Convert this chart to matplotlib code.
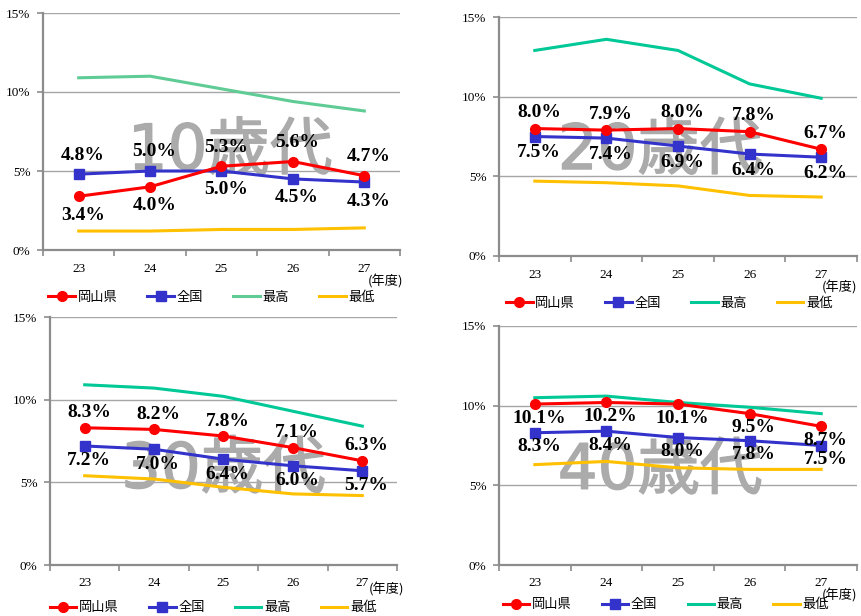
import numpy as np
import matplotlib.pyplot as plt
import matplotlib.patheffects as pe
from matplotlib.ticker import FixedLocator, FuncFormatter

## Data (percent), fiscal years 23-27
years = ["23", "24", "25", "26", "27"]

okayama_10 = [3.4, 4.0, 5.3, 5.6, 4.7]
zenkoku_10 = [4.8, 5.0, 5.0, 4.5, 4.3]
saiko_10 = [10.9, 11.0, 10.2, 9.4, 8.8]
saitei_10 = [1.2, 1.2, 1.3, 1.3, 1.4]

okayama_20 = [8.0, 7.9, 8.0, 7.8, 6.7]
zenkoku_20 = [7.5, 7.4, 6.9, 6.4, 6.2]
saiko_20 = [12.9, 13.6, 12.9, 10.8, 9.9]
saitei_20 = [4.7, 4.6, 4.4, 3.8, 3.7]

okayama_30 = [8.3, 8.2, 7.8, 7.1, 6.3]
zenkoku_30 = [7.2, 7.0, 6.4, 6.0, 5.7]
saiko_30 = [10.9, 10.7, 10.2, 9.3, 8.4]
saitei_30 = [5.4, 5.2, 4.7, 4.3, 4.2]

okayama_40 = [10.1, 10.2, 10.1, 9.5, 8.7]
zenkoku_40 = [8.3, 8.4, 8.0, 7.8, 7.5]
saiko_40 = [10.5, 10.6, 10.2, 9.9, 9.5]
saitei_40 = [6.3, 6.5, 6.1, 6.0, 6.0]

W, H = 862, 616
fig = plt.figure(figsize=(W / 100, H / 100), dpi=100)

RED = "#FF0000"
BLUE = "#3333CC"
YELLOW = "#FFC000"
GREY = "#8C8C8C"
WM_GREY = "#ABABAB"

cjk = ["Noto Sans CJK JP", "DejaVu Sans"]
wm_font = ["DejaVu Sans", "Noto Sans CJK JP"]  # wide digits, CJK for the kanji
serif = "Liberation Serif"


def px_axes(left, right, top, bottom):
    return fig.add_axes([left / W, (H - bottom) / H, (right - left) / W, (bottom - top) / H])


# panel: box, watermark, data, green colour, label sides (+1 above / -1 below), offset px,
#        watermark pos, (年度) pos, legend pos  (axes coords)
panels = [
    ((43, 400, 13, 250), "10歳代", okayama_10, zenkoku_10, saiko_10, saitei_10, "#5FCB95",
     [-1, -1, 1, 1, 1], [1, 1, -1, -1, -1], 19, (0.524, 0.413), (1.01, -0.135), (0.015, -0.2)),
    ((499, 857, 17, 256), "20歳代", okayama_20, zenkoku_20, saiko_20, saitei_20, "#00C896",
     [1, 1, 1, 1, 1], [-1, -1, -1, -1, -1], 16, (0.45, 0.435), (1.0, -0.13), (0.02, -0.197)),
    ((50, 397, 317, 565), "30歳代", okayama_30, zenkoku_30, saiko_30, saitei_30, "#00C896",
     [1, 1, 1, 1, 1], [-1, -1, -1, -1, -1], 15, (0.5, 0.38), (1.02, -0.1), (0.0, -0.173)),
    ((499, 857, 326, 565), "40歳代", okayama_40, zenkoku_40, saiko_40, saitei_40, "#00C896",
     [-1, -1, -1, -1, -1], [-1, -1, -1, -1, -1], 14, (0.45, 0.39), (1.0, -0.126), (0.01, -0.167)),
]

x = np.arange(len(years))

for (box, title, oka, zen, hi, lo, green, oka_side, zen_side, off,
     wm_pos, nendo_pos, leg_pos) in panels:
    ax = px_axes(*box)
    ax.set_xlim(-0.5, len(years) - 0.5)
    ax.set_ylim(0, 15)

    ax.plot(x, hi, color=green, lw=2.2, label="最高", zorder=2)
    ax.plot(x, lo, color=YELLOW, lw=2.2, label="最低", zorder=2)
    ax.plot(x, zen, color=BLUE, lw=2.2, marker="s", ms=6.5, label="全国", zorder=3)
    ax.plot(x, oka, color=RED, lw=2.2, marker="o", ms=7, label="岡山県", zorder=4)

    # big grey watermark (regular weight thickened a little with a stroke)
    ax.text(wm_pos[0], wm_pos[1], title, transform=ax.transAxes, ha="center", va="center",
            fontsize=45, color=WM_GREY, family=wm_font, zorder=1,
            path_effects=[pe.withStroke(linewidth=1.0, foreground=WM_GREY)])

    # data labels
    for vals, sides in [(oka, oka_side), (zen, zen_side)]:
        for xi, v, s in zip(x, vals, sides):
            ax.annotate(f"{v:.1f}%", (xi, v), xytext=(3, s * off * 0.72),
                        textcoords="offset points", ha="center", va="center",
                        fontsize=14, fontweight="bold", family=serif, zorder=5)

    # axes styling
    for sp in ["top", "right"]:
        ax.spines[sp].set_visible(False)
    for sp in ["left", "bottom"]:
        ax.spines[sp].set_color(GREY)
        ax.spines[sp].set_linewidth(1.6)
    ax.set_yticks([0, 5, 10, 15])
    ax.yaxis.set_major_formatter(FuncFormatter(lambda v, p: f"{v:.0f}%"))
    ax.grid(axis="y", color="#A6A6A6", lw=1.0, zorder=0)
    ax.set_axisbelow(True)
    ax.tick_params(axis="y", direction="out", length=4, width=1.2, color=GREY, pad=5,
                   labelsize=9.5)
    ax.set_xticks(x)
    ax.set_xticklabels(years)
    ax.xaxis.set_minor_locator(FixedLocator(np.arange(-0.5, len(years), 1.0)))
    ax.tick_params(axis="x", which="major", length=0, pad=9, labelsize=9.5)
    ax.tick_params(axis="x", which="minor", direction="out", length=4, width=1.2, color=GREY)
    for lab in ax.get_xticklabels() + ax.get_yticklabels():
        lab.set_family(serif)

    ax.text(nendo_pos[0], nendo_pos[1], "(年度)", transform=ax.transAxes, ha="right",
            va="center", fontsize=9.5, family=cjk)

    h, l = ax.get_legend_handles_labels()
    order = [3, 2, 0, 1]
    ax.legend([h[i] for i in order], [l[i] for i in order], loc="center left",
              bbox_to_anchor=leg_pos, ncol=4, frameon=False, prop={"family": cjk, "size": 9.5},
              handlelength=2.0, handletextpad=0.2, columnspacing=2.3, borderpad=0,
              borderaxespad=0)

fig.savefig("out.png", dpi=100)
